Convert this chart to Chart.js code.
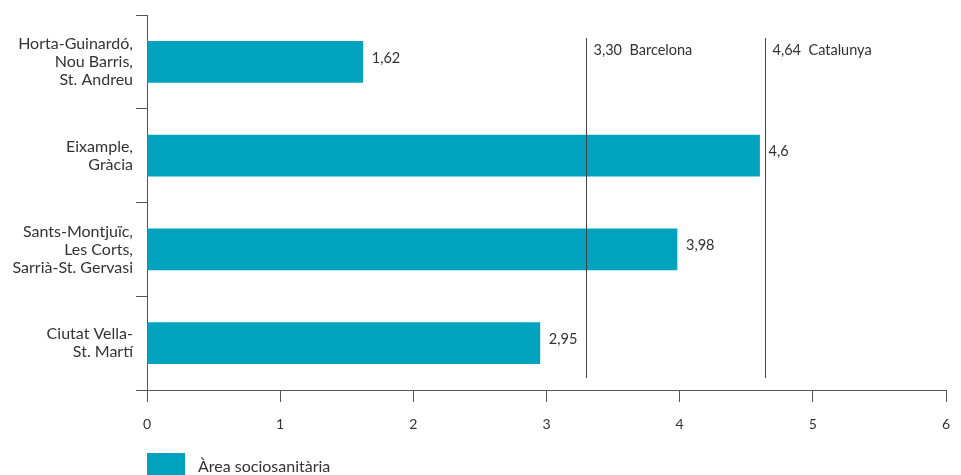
<!DOCTYPE html>
<html>
<head>
<meta charset="utf-8">
<script src="https://cdn.jsdelivr.net/npm/chart.js@4/dist/chart.umd.min.js"></script>
<style>
  html, body { margin: 0; padding: 0; background: #fff; }
  #wrap { width: 961px; height: 475px; position: relative; }
</style>
</head>
<body>
<div id="wrap"><canvas id="c" width="961" height="475"></canvas></div>
<script>
// Districts grouped by socio-health area (rate per area)
const categories = [
  ['Horta-Guinardó,', 'Nou Barris,', 'St. Andreu'],
  ['Eixample,', 'Gràcia'],
  ['Sants-Montjuïc,', 'Les Corts,', 'Sarrià-St. Gervasi'],
  ['Ciutat Vella-', 'St. Martí']
];
const areaValues = [1.62, 4.6, 3.98, 2.95];
const seriesName = 'Àrea sociosanitària';

// Reference values drawn as vertical lines
const refNames = ['Barcelona', 'Catalunya'];
const refValues = [3.30, 4.64];

const xTicks = [0, 1, 2, 3, 4, 5, 6];

const FONT = 'Lato, "Open Sans", sans-serif';
const TEXT = '#333333';
const AXIS = '#555555';
const BAR = '#00a3be';

const fmt = v => v.toLocaleString('ca-ES', { maximumFractionDigits: 2 });
const fmt2 = v => v.toLocaleString('ca-ES', { minimumFractionDigits: 2, maximumFractionDigits: 2 });

const extras = {
  id: 'extras',
  afterDatasetsDraw(chart) {
    const { ctx, chartArea, scales } = chart;
    const x = scales.x;
    ctx.save();

    // value labels next to each bar
    ctx.font = '14.5px ' + FONT;
    ctx.fillStyle = TEXT;
    ctx.textAlign = 'left';
    ctx.textBaseline = 'middle';
    const meta = chart.getDatasetMeta(0);
    meta.data.forEach((bar, i) => {
      ctx.fillText(fmt(areaValues[i]), bar.x + 9, bar.y - 4);
    });

    // reference lines with captions
    ctx.font = '14.5px ' + FONT;
    refValues.forEach((v, i) => {
      const px = Math.round(x.getPixelForValue(v)) + 0.5;
      ctx.strokeStyle = '#444444';
      ctx.lineWidth = 1;
      ctx.beginPath();
      ctx.moveTo(px, chartArea.top + 23);
      ctx.lineTo(px, chartArea.bottom - 12);
      ctx.stroke();
      ctx.fillStyle = TEXT;
      ctx.fillText(fmt2(v) + '  ' + refNames[i], px + 7, chartArea.top + 35);
    });

    // x axis line continues left under the category ticks
    ctx.strokeStyle = AXIS;
    ctx.beginPath();
    ctx.moveTo(chartArea.left - 11, chartArea.bottom + 0.5);
    ctx.lineTo(chartArea.left, chartArea.bottom + 0.5);
    ctx.stroke();

    // legend
    const lx = chartArea.left, ly = 453;
    ctx.fillStyle = BAR;
    ctx.fillRect(lx, ly, 38, 22);
    ctx.fillStyle = TEXT;
    ctx.font = '16px ' + FONT;
    ctx.fillText(chart.data.datasets[0].label, lx + 51, ly + 14);
    ctx.restore();
  }
};

new Chart(document.getElementById('c'), {
  type: 'bar',
  data: {
    labels: categories,
    datasets: [{
      label: seriesName,
      data: areaValues,
      backgroundColor: BAR,
      borderWidth: 0,
      barThickness: 41
    }]
  },
  options: {
    indexAxis: 'y',
    responsive: false,
    animation: false,
    devicePixelRatio: 1,
    layout: { padding: { top: 15, right: 15, bottom: 45, left: 0 } },
    plugins: {
      legend: { display: false },
      tooltip: { enabled: false }
    },
    scales: {
      x: {
        type: 'linear',
        min: 0,
        max: 6,
        afterFit(s) { s.height = 40; s.paddingLeft = 0; s.paddingRight = 0; },
        afterBuildTicks(s) { s.ticks = xTicks.map(v => ({ value: v })); },
        grid: { drawOnChartArea: false, drawTicks: true, tickLength: 12, color: AXIS },
        border: { display: true, color: AXIS, width: 1 },
        ticks: { color: TEXT, font: { family: FONT, size: 14 }, padding: 14, callback: v => String(v) }
      },
      y: {
        afterFit(s) { s.width = 147; s.paddingTop = 0; s.paddingBottom = 0; },
        grid: { drawOnChartArea: false, drawTicks: true, tickLength: 11, color: AXIS, offset: true },
        border: { display: true, color: AXIS, width: 1 },
        ticks: { color: TEXT, font: { family: FONT, size: 16, lineHeight: '18px' }, padding: 3 }
      }
    }
  },
  plugins: [extras]
});
</script>
</body>
</html>
